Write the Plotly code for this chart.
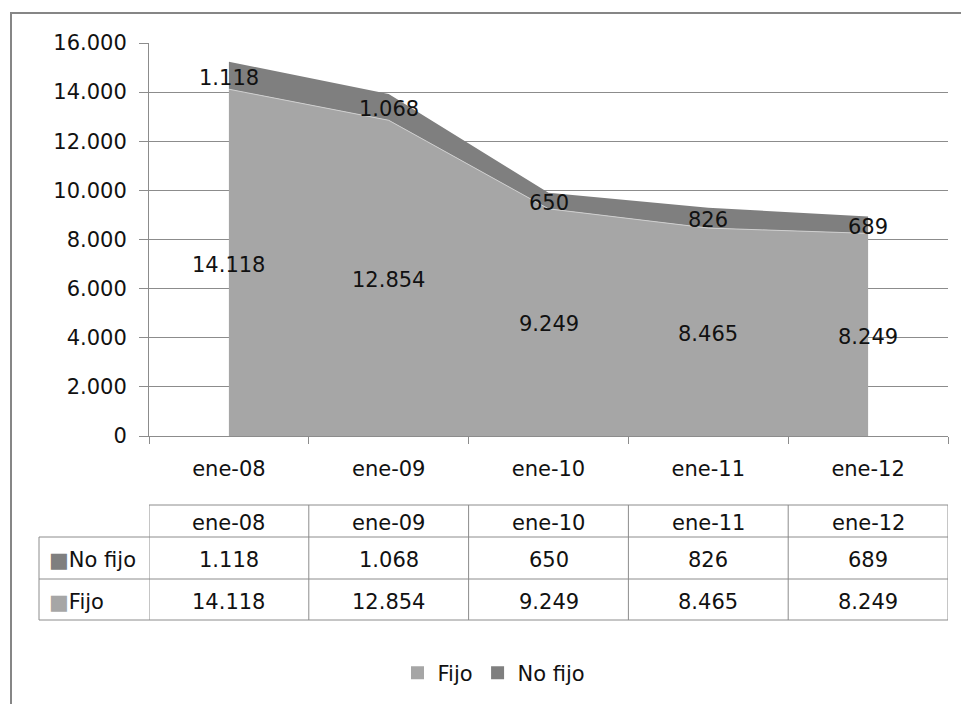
import plotly.graph_objects as go

# Empleo por tipo de contrato (enero de cada año)
meses = ["ene-08", "ene-09", "ene-10", "ene-11", "ene-12"]
fijo = [14118, 12854, 9249, 8465, 8249]
no_fijo = [1118, 1068, 650, 826, 689]
y_ticks = [0, 2000, 4000, 6000, 8000, 10000, 12000, 14000, 16000]

COLOR_FIJO = "#a6a6a6"
COLOR_NO_FIJO = "#7f7f7f"
GRID = "#8c8c8c"
TEXT = "#111111"
FONT = "DejaVu Sans"
FS = 21
TEXT_DY = -2  # baja ligeramente el texto centrado

W, H = 961, 704
M_L, M_R, M_T, M_B = 39, 13, 43, 20
PW = W - M_L - M_R
PH = H - M_T - M_B


def px(x):
    return (x - M_L) / PW


def py(y):
    return (H - M_B - y) / PH


def fmt(v):
    return f"{v:,}".replace(",", ".")


fig = go.Figure()

# Áreas apiladas
fig.add_trace(go.Scatter(
    x=meses, y=fijo, name="Fijo", stackgroup="total", mode="lines",
    line=dict(color="#cfcfcf", width=1), fillcolor=COLOR_FIJO,
    showlegend=False, hoverinfo="skip",
))
fig.add_trace(go.Scatter(
    x=meses, y=no_fijo, name="No fijo", stackgroup="total", mode="lines",
    line=dict(color=COLOR_NO_FIJO, width=0), fillcolor=COLOR_NO_FIJO,
    showlegend=False, hoverinfo="skip",
))

# Entradas de leyenda con marcador cuadrado
fig.add_trace(go.Scatter(
    x=[None], y=[None], mode="markers", name="Fijo",
    marker=dict(symbol="square", size=13, color=COLOR_FIJO),
))
fig.add_trace(go.Scatter(
    x=[None], y=[None], mode="markers", name="No fijo",
    marker=dict(symbol="square", size=13, color=COLOR_NO_FIJO),
))

annotations = []
shapes = []
txt_font = dict(family=FONT, size=FS, color=TEXT)

# Etiquetas de valor en el centro de cada banda
for mes, f, n in zip(meses, fijo, no_fijo):
    annotations.append(dict(x=mes, y=f / 2, xref="x", yref="y", text=fmt(f),
                            yanchor="middle", showarrow=False, font=txt_font,
                            yshift=TEXT_DY))
    annotations.append(dict(x=mes, y=f + n / 2, xref="x", yref="y", text=fmt(n),
                            yanchor="middle", showarrow=False, font=txt_font,
                            yshift=TEXT_DY))

# Tabla de datos bajo el gráfico
T_TOP, T_R1, T_R2, T_BOT = 505, 537, 579, 620
T_LEFT, T_COL1 = 39, 149
line_style = dict(color=GRID, width=1)

# líneas horizontales
shapes.append(dict(type="line", xref="paper", yref="paper",
                   x0=px(T_COL1), x1=1, y0=py(T_TOP), y1=py(T_TOP), line=line_style))
for yy in (T_R1, T_R2, T_BOT):
    shapes.append(dict(type="line", xref="paper", yref="paper",
                       x0=px(T_LEFT), x1=1, y0=py(yy), y1=py(yy), line=line_style))
# líneas verticales
shapes.append(dict(type="line", xref="paper", yref="paper",
                   x0=px(T_LEFT), x1=px(T_LEFT), y0=py(T_R1), y1=py(T_BOT), line=line_style))
for i in range(len(meses) + 1):
    shapes.append(dict(type="line", xref="x", yref="paper",
                       x0=i - 0.5, x1=i - 0.5, y0=py(T_TOP), y1=py(T_BOT), line=line_style))

filas = [("No fijo", COLOR_NO_FIJO, no_fijo, (T_R1 + T_R2) / 2),
         ("Fijo", COLOR_FIJO, fijo, (T_R2 + T_BOT) / 2)]
for mes in meses:
    annotations.append(dict(x=mes, y=py((T_TOP + T_R1) / 2), xref="x", yref="paper",
                            text=mes, xanchor="center", yanchor="middle",
                            showarrow=False, font=txt_font, yshift=TEXT_DY))
for nombre, color, valores, yc in filas:
    annotations.append(dict(
        x=px(T_LEFT + 8), y=py(yc), xref="paper", yref="paper",
        xanchor="left", yanchor="middle",
        text=f'<span style="color:{color}">■</span>{nombre}',
        showarrow=False, font=txt_font, yshift=TEXT_DY))
    for mes, v in zip(meses, valores):
        annotations.append(dict(x=mes, y=py(yc), xref="x", yref="paper", text=fmt(v),
                                xanchor="center", yanchor="middle",
                                showarrow=False, font=txt_font, yshift=TEXT_DY))

# Marco del área del gráfico
shapes.append(dict(type="line", xref="paper", yref="paper",
                   x0=px(10), x1=px(975), y0=py(13), y1=py(13),
                   line=dict(color="#868686", width=2)))
shapes.append(dict(type="line", xref="paper", yref="paper",
                   x0=px(11), x1=px(11), y0=py(13), y1=py(720),
                   line=dict(color="#868686", width=2)))

fig.update_layout(
    width=W, height=H,
    margin=dict(l=M_L, r=M_R, t=M_T, b=M_B, autoexpand=False),
    paper_bgcolor="white", plot_bgcolor="white",
    separators=",.",
    font=txt_font,
    xaxis=dict(
        domain=[px(149), 1], type="category", range=[-0.5, len(meses) - 0.5],
        showgrid=False, showline=True, linecolor=GRID, linewidth=1,
        ticks="outside", tickson="boundaries", ticklen=7, tickcolor=GRID,
        ticklabelstandoff=14, tickfont=txt_font, fixedrange=True,
    ),
    yaxis=dict(
        domain=[py(436), 1], range=[0, 16000],
        tickvals=y_ticks, tickformat=",d",
        showgrid=True, gridcolor=GRID, gridwidth=1,
        showline=True, linecolor=GRID, linewidth=1,
        ticks="outside", ticklen=9, tickcolor=GRID,
        ticklabelstandoff=8, tickfont=txt_font,
        zeroline=False, fixedrange=True,
    ),
    legend=dict(
        orientation="h", traceorder="normal",
        x=px(494), xanchor="center", y=py(673), yanchor="middle",
        font=txt_font, bgcolor="rgba(0,0,0,0)",
    ),
    annotations=annotations,
    shapes=shapes,
)

fig.write_html("out.html")
